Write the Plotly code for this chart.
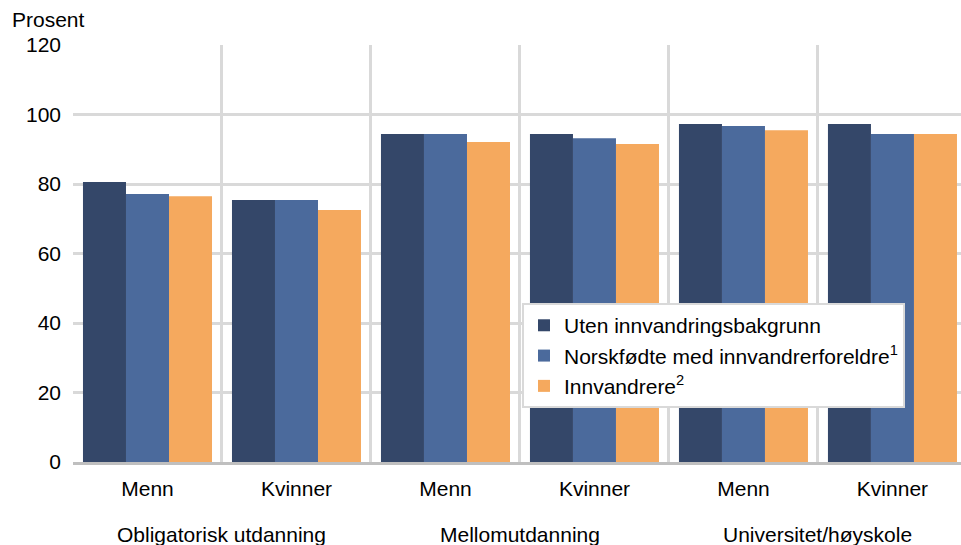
import plotly.graph_objects as go

# categories (unique ids) and their displayed tick labels
categories = ["obl_m", "obl_k", "mel_m", "mel_k", "uni_m", "uni_k"]
tick_labels = ["Menn", "Kvinner", "Menn", "Kvinner", "Menn", "Kvinner"]
group_labels = ["Obligatorisk utdanning", "Mellomutdanning", "Universitet/høyskole"]

uten = [80.6, 75.4, 94.4, 94.4, 97.3, 97.3]
norskfodte = [77.1, 75.4, 94.4, 93.2, 96.7, 94.4]
innvandrere = [76.5, 72.5, 92.1, 91.5, 95.5, 94.4]

series_names = [
    "Uten innvandringsbakgrunn",
    "Norskfødte med innvandrerforeldre<sup>1</sup>",
    "Innvandrere<sup>2</sup>",
]
colors = ["#344769", "#4b6a9c", "#f5a95e"]

font_family = "Liberation Sans, Arial, sans-serif"
grid_color = "#d9d9d9"

fig = go.Figure()
for name, values, color in zip(series_names, [uten, norskfodte, innvandrere], colors):
    fig.add_trace(go.Bar(x=categories, y=values, name=name, marker=dict(color=color, line=dict(width=0))))

fig.update_layout(
    width=961,
    height=545,
    margin=dict(l=73, r=0, t=45, b=83),
    paper_bgcolor="white",
    plot_bgcolor="white",
    font=dict(family=font_family, size=21, color="#000000"),
    barmode="group",
    bargap=0.134,
    bargroupgap=0,
    showlegend=True,
    legend=dict(
        x=0.5056,
        y=0.381,
        xanchor="left",
        yanchor="top",
        bgcolor="white",
        bordercolor=grid_color,
        borderwidth=2,
        font=dict(size=21),
        tracegroupgap=1,
    ),
    xaxis=dict(
        type="category",
        tickmode="array",
        tickvals=categories,
        ticktext=tick_labels,
        tickson="boundaries",
        range=[-0.5, 5.46],
        showgrid=True,
        gridcolor=grid_color,
        gridwidth=3,
        ticks="",
        ticklabelstandoff=6,
        showline=True,
        linecolor="#bfbfbf",
        linewidth=3,
    ),
    yaxis=dict(
        range=[0, 120],
        tickvals=[0, 20, 40, 60, 80, 100, 120],
        showgrid=True,
        gridcolor=grid_color,
        gridwidth=3,
        zeroline=False,
        ticks="",
        ticklabelstandoff=11,
        showline=False,
    ),
)

# group labels centred under each pair of categories
for label, xpos in zip(group_labels, [0.5, 2.5, 4.5]):
    fig.add_annotation(
        text=label, xref="x", yref="paper", x=xpos, y=-0.175,
        xanchor="center", yanchor="middle", showarrow=False,
    )

fig.add_annotation(
    text="Prosent", xref="paper", yref="paper", x=-0.071, y=1.06,
    xanchor="left", yanchor="middle", showarrow=False,
)

fig.write_html(
    "out.html",
    config={"displayModeBar": False},
    post_script="document.body.style.margin='0';",
)
